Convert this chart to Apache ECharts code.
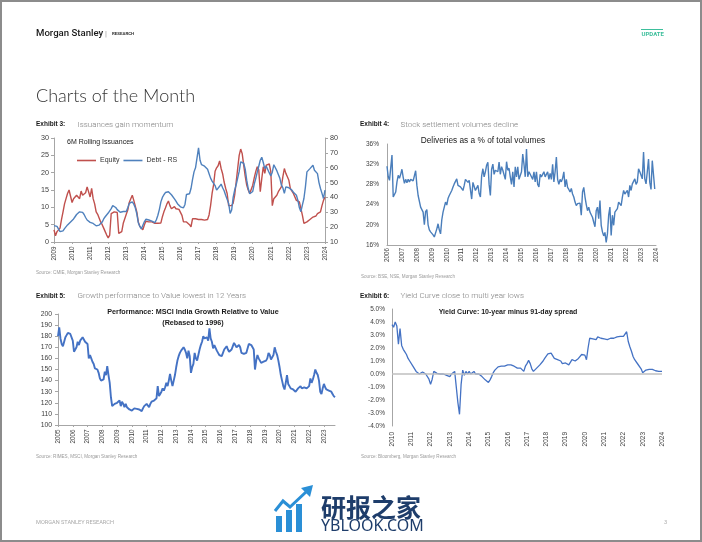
<!DOCTYPE html>
<html><head><meta charset="utf-8">
<script src="https://cdn.jsdelivr.net/npm/echarts@6/dist/echarts.min.js"></script>
<style>html,body{margin:0;padding:0;background:#fff}#c{width:702px;height:542px}</style>
</head><body><div id="c"></div>
<script>
// ---------- Exhibit 3: Issuances gain momentum (monthly, Jan 2009 - Jan 2024) ----------
const ex3Years = ['2009','2010','2011','2012','2013','2014','2015','2016','2017','2018','2019','2020','2021','2022','2023','2024'];
const ex3Equity = [
 3.5,1.8,3.0,3.5,4.0,6.5,8.7,11.0,12.5,14.0,15.0,15.5,
 11.4,12.5,13.0,13.5,13.5,12.5,14.7,13.5,13.8,14.2,15.9,15.5,
 13.0,15.5,12.5,11.0,8.7,8.0,7.8,5.8,5.0,4.0,3.0,2.0,
 1.2,2.0,8.2,8.5,8.7,8.6,8.5,2.5,2.8,3.0,5.4,5.8,
 8.0,9.2,11.4,12.5,13.5,12.0,12.5,8.7,5.8,4.5,4.0,3.5,
 4.9,6.0,5.6,5.8,6.0,5.8,5.6,5.4,5.5,5.4,4.9,5.5,
 7.3,8.7,9.8,11.0,11.8,10.5,9.6,10.0,10.2,9.6,9.6,9.4,
 9.4,7.7,5.8,6.2,5.8,5.4,5.0,4.4,6.7,6.7,6.7,6.7,
 6.5,6.5,6.5,6.4,6.3,5.8,6.5,7.8,10.5,14.0,16.5,20.4,
 21.4,22.0,23.4,21.2,19.7,17.3,15.5,14.0,10.5,10.2,10.5,11.2,
 13.5,17.3,21.2,25.0,26.8,25.5,22.2,19.0,16.4,15.0,14.0,14.5,
 16.4,18.5,20.3,21.7,20.8,14.5,18.3,21.7,19.8,22.2,22.7,22.5,
 20.3,10.5,12.5,13.0,13.5,14.5,15.0,15.9,18.8,21.2,19.8,18.8,
 17.8,15.4,14.9,14.0,13.5,12.0,11.8,11.6,9.6,7.7,5.4,5.8,
 5.8,6.0,6.5,7.0,7.2,7.3,7.5,8.2,8.5,8.7,10.5,12.0,
 13.0];
const ex3Debt = [
 21.0,20.8,20.5,19.6,17.0,15.8,17.5,19.0,20.3,21.5,22.5,23.5,
 23.8,25.5,27.0,28.5,29.5,30.3,30.2,29.9,28.5,26.5,24.8,23.8,
 23.2,23.2,22.5,21.8,20.9,21.0,21.4,22.3,23.4,25.5,27.0,28.0,
 29.5,30.4,32.5,34.5,35.0,33.2,31.8,30.8,30.0,28.8,30.5,31.0,
 30.5,33.0,36.0,37.3,37.0,35.5,33.0,29.0,23.0,20.5,18.8,19.0,
 23.6,25.3,25.5,24.8,24.8,24.0,23.4,23.0,25.0,28.0,32.0,37.0,
 40.0,41.8,43.3,44.0,43.8,43.0,41.8,40.5,39.0,37.5,35.8,35.0,
 33.7,33.3,33.0,35.3,42.0,41.5,42.5,46.0,52.0,57.2,59.9,60.0,
 73.3,65.0,62.0,61.0,61.0,61.0,59.0,56.0,53.0,51.0,49.5,48.0,
 44.9,46.0,47.5,49.0,46.5,44.5,41.5,40.5,36.0,29.2,31.5,40.0,
 44.9,48.5,53.0,57.5,63.9,64.5,63.0,59.0,51.6,46.0,42.5,41.5,
 44.0,49.0,52.7,57.0,61.0,65.0,67.0,63.5,59.4,61.0,60.0,56.5,
 54.5,57.0,62.0,63.0,58.0,55.5,53.0,48.5,46.5,42.7,47.1,48.0,
 46.5,46.0,44.9,43.5,42.7,41.5,38.0,33.0,30.4,35.0,39.3,47.1,
 57.2,58.3,59.4,60.5,61.7,58.3,58.3,56.0,50.0,46.0,42.7,39.3,
 44.9];

// ---------- Exhibit 4: Deliveries as a % of total volumes (monthly, Jan 2006 - Dec 2023) ----------
const ex4Years = ['2006','2007','2008','2009','2010','2011','2012','2013','2014','2015','2016','2017','2018','2019','2020','2021','2022','2023','2024'];
const ex4Delivery = [
 31.6,29.5,28.8,29.0,33.8,25.5,25.8,26.5,28.5,29.8,29.2,30.0,
 31.0,29.4,28.2,29.0,28.3,29.0,28.5,29.0,29.0,28.7,28.6,30.7,
 27.8,25.8,25.5,23.5,23.8,22.5,20.0,22.6,23.0,20.0,19.0,18.6,
 18.9,18.0,17.6,17.8,19.2,20.2,19.0,18.2,21.0,22.5,23.5,24.5,
 23.9,25.2,25.8,25.5,26.8,27.5,28.1,28.4,29.1,27.8,28.1,27.5,
 27.2,26.8,27.8,29.0,29.1,28.4,28.8,29.1,25.1,28.4,28.1,26.8,
 26.8,27.8,26.2,25.5,29.7,31.1,29.5,30.5,31.8,32.4,28.0,25.8,
 31.0,32.0,30.0,30.8,31.1,30.5,32.4,30.0,31.5,30.8,31.1,29.0,
 32.5,30.8,31.2,29.5,28.0,30.5,27.5,31.5,29.5,31.5,29.0,28.8,
 30.5,34.0,32.0,29.5,35.0,29.5,30.5,30.0,30.2,29.0,30.5,28.5,
 30.5,28.0,27.5,30.0,29.5,29.2,30.5,29.5,29.8,30.5,29.0,30.2,
 29.0,32.0,28.5,30.5,33.4,29.0,28.0,29.0,28.5,29.2,30.5,27.5,
 29.0,27.4,27.0,26.5,27.2,26.1,25.5,24.5,23.8,24.2,24.0,24.3,
 21.9,26.5,27.4,25.5,24.0,22.8,23.5,22.5,22.0,21.5,20.5,19.6,
 22.8,23.5,21.2,24.8,19.9,18.6,17.8,18.5,16.5,18.2,21.9,23.5,
 17.9,21.9,19.9,22.5,22.2,23.2,24.5,24.8,23.8,25.5,26.8,26.1,
 25.8,26.8,25.5,27.8,26.8,28.1,27.8,29.1,28.0,28.5,31.1,30.5,
 30.4,29.1,34.4,29.1,28.1,30.5,33.0,28.4,27.0,32.7,32.5,27.1];

// ---------- Exhibit 5: MSCI India Growth relative to Value (monthly, Jan 2005 - Oct 2023) ----------
const ex5Years = ['2005','2006','2007','2008','2009','2010','2011','2012','2013','2014','2015','2016','2017','2018','2019','2020','2021','2022','2023'];
const ex5Relative = [
 180,188,178,173,171,175,179,181,183,183,182,182,
 176,166,167,170,175,172,176,177,179,180,175,174,
 173,160,163,160,157,155,151,150,150,147,142,140,
 139,141,148,145,153,145,138,125,117,118,119,120,
 120,120,122,117,121,119,116,119,116,115,114,113,
 113,114,115,115,114.5,115,114,113.5,112.5,115,117,118,
 119,118,116,119,121,122,122,123,124,135,126,128,
 130,133,131,134,138,135,140,146,140,135,140,145,
 152,158,162,165,167,168,170,168,165,160,167,162,
 147,152,155,165,160,158,163,168,172,175,180,178,
 178,179,176,187,178,175,169,172,173,167,165,163,
 163,162,165,168,169,171,168,166,167,168,171,174,
 174,170,171,172,170,165,166,164,164,165,166,173,
 173,172,170,168,150,158,163,160,158,156,155,157,
 157,158,160,165,163,159,161,163,170,166,163,158,
 152,145,140,135,132,138,145,137,135,133,133,132,
 132,130,131,133,134,135,133,132,134,134,133,134,
 135,142,138,141,145,150,147,145,140,130,128,133,
 137,134,132,131,131,131,130,128,126,125];

// ---------- Exhibit 6: 10-year minus 91-day spread, % (monthly, Jan 2010 - Jan 2024) ----------
const ex6Years = ['2010','2011','2012','2013','2014','2015','2016','2017','2018','2019','2020','2021','2022','2023','2024'];
const ex6Spread = [
 3.8,3.6,4.0,3.7,2.3,3.5,2.2,1.9,1.7,1.5,1.2,1.0,
 0.85,0.6,0.45,0.2,0.1,0.0,0.1,0.15,0.05,0.0,-0.1,-0.4,
 -0.8,-0.4,0.2,0.25,0.05,-0.05,0.0,0.1,0.0,-0.05,-0.1,0.0,
 -0.2,0.0,0.1,0.2,0.2,-2.2,-3.1,-0.8,0.3,-0.1,0.2,0.0,
 0.2,0.0,0.1,0.2,0.0,0.05,0.0,-0.1,-0.2,-0.35,-0.45,-0.6,
 -0.65,-0.45,-0.2,0.1,0.3,0.45,0.55,0.5,0.6,0.7,0.6,0.65,
 0.7,0.85,0.7,0.75,0.6,0.7,0.45,0.55,0.45,0.3,0.2,0.6,
 0.8,1.05,0.8,0.4,0.2,0.3,0.45,0.6,0.7,0.85,1.0,1.2,
 1.35,1.55,1.5,1.6,1.45,1.2,1.25,1.1,1.15,1.0,0.8,0.7,
 0.85,0.9,0.7,0.85,1.1,1.0,1.0,1.1,1.2,1.35,1.5,1.6,
 1.45,1.1,2.0,2.75,2.6,2.7,2.8,2.65,2.85,2.7,2.75,2.9,
 2.7,2.8,2.65,2.55,2.75,2.8,2.75,2.8,2.85,2.8,2.9,2.95,
 2.9,3.05,3.25,2.5,2.1,1.75,1.35,1.1,1.0,0.75,0.6,0.4,
 0.1,0.2,0.3,0.4,0.35,0.3,0.35,0.3,0.25,0.3,0.2,0.1,
 0.2];

// ---------- helpers ----------
function monthCats(startYear, n){
  return Array.from({length:n},(_,i)=>(startYear+Math.floor(i/12))+'-'+String(i%12+1).padStart(2,'0'));
}
const AX = '#a6a6a6', LBL = '#404040';
const TF = "'Liberation Sans', Arial, sans-serif";
function xAx(gi, years, n, o){
  return {type:'category', gridIndex:gi, data:monthCats(+years[0], n), boundaryGap:false,
    axisLine:{show:o.line!==false, onZero:false, lineStyle:{color:AX}},
    axisTick:{show:o.tick!==false, interval:(i)=>i%12===0, length:2, lineStyle:{color:AX}},
    axisLabel:{interval:(i)=>i%12===0, rotate:90, formatter:(v,i)=>years[i/12], fontSize:o.fs, color:LBL, margin:o.margin, fontFamily:TF},
    splitLine:{show:false}};
}
function yAx(gi, min, max, step, o){
  return {type:'value', gridIndex:gi, min, max, interval:step, position:o.pos||'left',
    axisLine:{show:true, lineStyle:{color:AX}},
    axisTick:{show:o.tick!==false, length:3, lineStyle:{color:AX}},
    axisLabel:{fontSize:o.fs, color:LBL, margin:o.margin, fontFamily:TF, formatter:o.fmt},
    splitLine:{show:false}};
}
function txt(text, x, y, font, fill, align){
  return {type:'text', silent:true, style:{text, x, y, font, fill, textAlign:align||'left', align:align||'left', textVerticalAlign:'middle', verticalAlign:'middle'}};
}

const n3 = ex3Years.length*12-11, n4 = ex4Years.length*12-11, n5 = ex5Relative.length, n6 = ex6Years.length*12-11;
const EX = "bold 6.5px 'Liberation Sans', Arial, sans-serif";
const DS = "300 8px Roboto, sans-serif";
const SRC = "4.6px 'Liberation Sans', Arial, sans-serif";

const option = {
  animation:false,
  backgroundColor:'#fff',
  grid:[
    {left:54, top:138, width:271, height:104},
    {left:387, top:144, width:269, height:101},
    {left:58, top:314, width:277, height:111},
    {left:392, top:309, width:270, height:117}
  ],
  xAxis:[
    xAx(0, ex3Years, n3, {fs:6.3, margin:4.5}),
    xAx(1, ex4Years, n4, {fs:6.3, margin:3, tick:false}),
    xAx(2, ex5Years, n5, {fs:6.3, margin:4.5}),
    xAx(3, ex6Years, n6, {fs:6.5, margin:6, line:false, tick:false})
  ],
  yAxis:[
    yAx(0, 0, 30, 5, {fs:7.2, margin:5}),
    yAx(0, 10, 80, 10, {fs:7.2, margin:5, pos:'right'}),
    yAx(1, 16, 36, 4, {fs:6.5, margin:8, tick:false, fmt:(v)=>v+'%'}),
    yAx(2, 100, 200, 10, {fs:6.8, margin:6}),
    yAx(3, -4, 5, 1, {fs:6.5, margin:7, tick:false, fmt:(v)=>v.toFixed(1)+'%'})
  ],
  legend:{left:72, top:152, icon:'rect', itemWidth:19, itemHeight:1.6, itemGap:4,
    data:['Equity','Debt - RS'], textStyle:{fontSize:7, color:'#333', fontFamily:TF, padding:[0,0,0,-1]}},
  series:[
    {name:'Equity', type:'line', xAxisIndex:0, yAxisIndex:0, data:ex3Equity, symbol:'none', lineStyle:{width:1.4, color:'#c0504d'}, itemStyle:{color:'#c0504d'}, z:3},
    {name:'Debt - RS', type:'line', xAxisIndex:0, yAxisIndex:1, data:ex3Debt, symbol:'none', lineStyle:{width:1.4, color:'#4f81bd'}, itemStyle:{color:'#4f81bd'}, z:4},
    {name:'Deliveries', type:'line', xAxisIndex:1, yAxisIndex:2, data:ex4Delivery, symbol:'none', lineStyle:{width:1.4, color:'#4a7ebb'}},
    {name:'Growth/Value', type:'line', xAxisIndex:2, yAxisIndex:3, data:ex5Relative, symbol:'none', lineStyle:{width:1.9, color:'#4472c4'}},
    {name:'zero', type:'line', xAxisIndex:3, yAxisIndex:4, data:[], z:1, silent:true,
      markLine:{silent:true, symbol:'none', label:{show:false}, lineStyle:{color:'#bfbfbf', width:1.6, type:'solid'}, data:[{yAxis:0}]}},
    {name:'Spread', type:'line', xAxisIndex:3, yAxisIndex:4, data:ex6Spread, symbol:'none', lineStyle:{width:1.3, color:'#4472c4'}, z:3}
  ],
  graphic:[
    {type:'rect', silent:true, shape:{x:1, y:1, width:700, height:540}, style:{fill:'none', stroke:'#8c8c8c', lineWidth:2}},
    txt('Morgan Stanley', 36, 33.5, "500 9.6px Roboto, sans-serif", '#1a1a1a'),
    txt('|', 105, 33.5, "8px Roboto, sans-serif", '#999'),
    txt('RESEARCH', 112, 33.8, "bold 4.4px Roboto, sans-serif", '#333'),
    {type:'line', silent:true, shape:{x1:641, y1:29.5, x2:663, y2:29.5}, style:{stroke:'#3dbf9c', lineWidth:1}},
    txt('UPDATE', 641.5, 34.5, "bold 6px Roboto, sans-serif", '#3dbf9c'),
    txt('Charts of the Month', 36, 96.5, "300 18px Lato, 'Open Sans', sans-serif", '#333'),

    txt('Exhibit 3:', 36, 124.5, EX, '#1a1a1a'),
    txt('Issuances gain momentum', 77.5, 124.5, DS, '#808080'),
    txt('6M Rolling Issuances', 67, 142, "7px 'Liberation Sans', Arial, sans-serif", '#1a1a1a'),
    txt('Source: CMIE, Morgan Stanley Research', 36, 273, SRC, '#9a9a9a'),

    txt('Exhibit 4:', 360, 124.5, EX, '#1a1a1a'),
    txt('Stock settlement volumes decline', 400.5, 124.5, DS, '#808080'),
    txt('Deliveries as a % of total volumes', 483, 141, "8.3px 'Liberation Sans', Arial, sans-serif", '#1a1a1a', 'center'),
    txt('Source: BSE, NSE, Morgan Stanley Research', 361, 277, SRC, '#9a9a9a'),

    txt('Exhibit 5:', 36, 296.3, EX, '#1a1a1a'),
    txt('Growth performance to Value lowest in 12 Years', 77.5, 296.3, DS, '#808080'),
    txt('Performance: MSCI India Growth Relative to Value', 193, 312.5, "bold 7.2px 'Liberation Sans', Arial, sans-serif", '#1a1a1a', 'center'),
    txt('(Rebased to 1996)', 193, 322.8, "bold 7.2px 'Liberation Sans', Arial, sans-serif", '#1a1a1a', 'center'),
    txt('Source: RIMES, MSCI, Morgan Stanley Research', 36, 457, SRC, '#9a9a9a'),

    txt('Exhibit 6:', 360, 296.3, EX, '#1a1a1a'),
    txt('Yield Curve close to multi year lows', 400.5, 296.3, DS, '#808080'),
    txt('Yield Curve: 10-year minus 91-day spread', 508, 312, "bold 7px 'Liberation Sans', Arial, sans-serif", '#1a1a1a', 'center'),
    txt('Source: Bloomberg, Morgan Stanley Research', 361, 457, SRC, '#9a9a9a'),

    txt('MORGAN STANLEY RESEARCH', 36, 522.7, "5.6px Roboto, sans-serif", '#aaaaaa'),
    txt('3', 664, 522.7, "5.6px Roboto, sans-serif", '#aaaaaa'),

    {type:'rect', silent:true, shape:{x:276, y:516, width:6, height:16}, style:{fill:'#2a8fd6'}},
    {type:'rect', silent:true, shape:{x:286, y:510, width:6, height:22}, style:{fill:'#2a8fd6'}},
    {type:'rect', silent:true, shape:{x:296, y:504, width:6, height:28}, style:{fill:'#2a8fd6'}},
    {type:'polyline', silent:true, shape:{points:[[275,511],[283,501],[290,507],[306,492]]}, style:{stroke:'#2a8fd6', lineWidth:3, fill:'none'}},
    {type:'polygon', silent:true, shape:{points:[[301,488],[313,485],[310,497]]}, style:{fill:'#2a8fd6'}},
    txt('研报之家', 321, 507, "bold 25px 'Noto Sans CJK SC', sans-serif", '#1e3d6b'),
    txt('YBLOOK.COM', 321, 526.5, "16px 'Noto Sans', sans-serif", '#1e3d6b')
  ]
};
const chart = echarts.init(document.getElementById('c'), null, {renderer:'canvas'});
chart.setOption(option);
</script>
</body></html>
